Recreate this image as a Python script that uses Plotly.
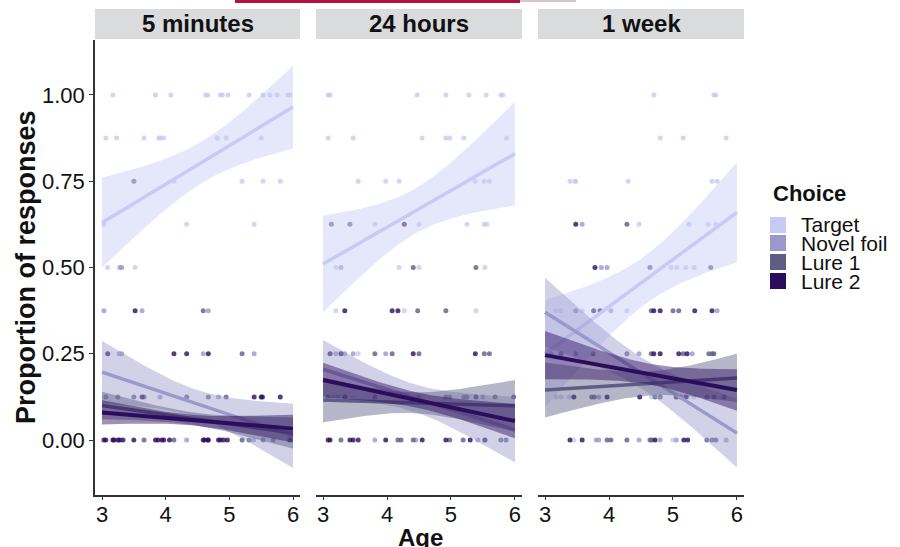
import numpy as np
import plotly.graph_objects as go

PANELS = ["5 minutes", "24 hours", "1 week"]
CHOICES = ["Target", "Novel foil", "Lure 1", "Lure 2"]
COLORS = ["#c6caf6", "#9b98cd", "#5d5d85", "#2b0c5d"]
X_TICKS = [3, 4, 5, 6]
Y_TICKS = [0.0, 0.25, 0.5, 0.75, 1.0]
Y_TICK_TEXT = ["0.00", "0.25", "0.50", "0.75", "1.00"]

# ---- observed points: proportion -> list of ages ----
P1_TARGET = {1.0: [3.17, 3.84, 4.08, 4.63, 4.66, 4.86, 4.89, 4.98, 5.31, 5.53, 5.64, 5.75, 5.92, 5.95],
             0.875: [3.06, 3.23, 3.66, 3.89, 3.92, 3.97, 4.81, 4.95, 5.5],
             0.75: [4.13, 5.2, 5.53, 5.8],
             0.625: [3.03, 4.33, 5.39],
             0.5: [3.09, 3.52]}
P1_NOVEL = {0.5: [3.28, 3.31], 0.375: [3.03, 3.63, 4.67], 0.25: [3.27, 3.31, 4.59, 5.39],
            0.125: [3.91, 4.83], 0.0: [4.33, 5.38]}
P1_LURE1 = {0.75: [3.5], 0.375: [4.59], 0.25: [5.2],
            0.125: [3.06, 3.25, 3.5, 3.66, 4.33, 4.67, 4.95],
            0.0: [3.66, 4.13, 5.2, 5.31, 5.53, 5.69]}
P1_LURE2 = {0.375: [3.52], 0.25: [3.09, 4.13, 4.33, 4.67],
            0.125: [3.63, 5.39, 5.5, 5.52, 5.8],
            0.0: [3.03, 3.06, 3.17, 3.19, 3.25, 3.28, 3.33, 3.5, 3.84, 3.88, 3.94, 3.97, 4.06,
                  4.59, 4.61, 4.66, 4.67, 4.83, 4.86, 4.91, 4.97, 5.95]}

P2_TARGET = {1.0: [3.08, 3.11, 4.47, 4.92, 5.28, 5.55, 5.78, 5.81],
             0.875: [3.08, 3.47, 4.55, 4.92, 4.98, 5.2, 5.87],
             0.75: [3.55, 3.98, 4.19, 5.38, 5.52, 5.6],
             0.625: [3.81, 4.5, 5.25, 5.52, 5.56],
             0.5: [3.2, 4.19, 4.5, 5.53],
             0.375: [3.2, 4.27, 5.39],
             0.25: [3.55], 0.125: [3.47]}
P2_NOVEL = {0.5: [3.28], 0.25: [3.2, 3.34, 3.47, 3.98], 0.125: [3.16, 3.23, 4.5, 5.5],
            0.0: [3.81, 4.45, 5.42]}
P2_LURE1 = {0.625: [3.13, 3.42], 0.5: [4.41, 5.39], 0.375: [4.48, 4.92],
            0.25: [3.81, 4.08, 4.5, 5.52, 5.6],
            0.125: [3.08, 3.81, 4.92, 4.98, 5.2, 5.25, 5.69, 5.98],
            0.0: [3.28, 4.17, 4.22, 4.41, 4.98, 5.19, 5.78, 5.86]}
P2_LURE2 = {0.625: [4.27], 0.375: [3.34, 4.08, 4.17], 0.25: [3.11, 3.28, 4.41, 5.38],
            0.125: [3.34, 5.39],
            0.0: [3.08, 3.11, 3.42, 3.47, 3.55, 3.98, 4.55, 4.92, 5.3, 5.53]}

P3_TARGET = {1.0: [4.7, 5.64, 5.67], 0.875: [4.8, 5.16, 5.83],
             0.75: [3.39, 3.47, 3.48, 4.3, 5.61, 5.69],
             0.625: [4.47, 5.25, 5.55, 5.67], 0.5: [4.97, 5.06, 5.2, 5.33],
             0.375: [3.17, 3.25, 3.58, 4.28], 0.125: [3.17, 3.25, 3.38, 4.66, 5.33],
             0.0: [3.45, 5.0]}
P3_NOVEL = {0.625: [3.58], 0.5: [3.88, 3.97], 0.375: [4.03, 5.69], 0.25: [3.09, 4.47, 5.3],
            0.125: [3.84, 5.22], 0.0: [3.8, 3.84, 4.47, 4.8, 5.05, 5.83]}
P3_LURE1 = {0.625: [4.28], 0.5: [4.64, 5.59], 0.375: [3.48, 4.66, 5.0, 5.09],
            0.25: [3.25, 3.48, 3.75, 4.28, 4.66, 5.16, 5.56, 5.61, 5.64],
            0.125: [3.73, 3.77, 4.72, 4.8, 5.53, 5.64, 5.8],
            0.0: [3.97, 4.03, 4.28, 4.64, 4.67, 5.53, 5.61, 5.67]}
P3_LURE2 = {0.625: [3.48], 0.5: [3.78], 0.375: [3.76, 3.86, 4.7, 4.8, 5.34, 5.61],
            0.25: [4.7, 4.8, 5.09, 5.22],
            0.125: [3.45, 3.97, 4.48, 5.05, 5.12, 5.2],
            0.0: [3.39, 3.58, 4.72, 5.17, 5.23]}

POINTS = [[P1_TARGET, P1_NOVEL, P1_LURE1, P1_LURE2],
          [P2_TARGET, P2_NOVEL, P2_LURE1, P2_LURE2],
          [P3_TARGET, P3_NOVEL, P3_LURE1, P3_LURE2]]

# ---- fitted lines (value at age 3 and age 6) and CI half-widths ----
FIT_AT_3 = [[0.63, 0.197, 0.10, 0.08], [0.51, 0.205, 0.116, 0.174], [0.25, 0.37, 0.145, 0.246]]
FIT_AT_6 = [[0.965, 0.012, 0.02, 0.033], [0.83, 0.03, 0.099, 0.055], [0.66, 0.02, 0.18, 0.145]]
CI_AT_3 = [[0.13, 0.09, 0.04, 0.035], [0.14, 0.085, 0.065, 0.05], [0.155, 0.10, 0.08, 0.07]]
CI_MIN = [[0.06, 0.04, 0.018, 0.015], [0.065, 0.04, 0.03, 0.022], [0.07, 0.045, 0.035, 0.03]]
CI_AT_6 = [[0.12, 0.093, 0.045, 0.04], [0.15, 0.095, 0.075, 0.05], [0.145, 0.10, 0.07, 0.06]]


def rgba(hexc, a):
    h = hexc.lstrip("#")
    return "rgba(%d,%d,%d,%.3f)" % (int(h[0:2], 16), int(h[2:4], 16), int(h[4:6], 16), a)


def band(f3, f6, h3, hm, h6):
    xs = np.linspace(3, 6, 80)
    fit = f3 + (f6 - f3) * (xs - 3) / 3
    A = hm ** 2
    r = np.sqrt((h6 ** 2 - A) / (h3 ** 2 - A))
    c = (6 + 3 * r) / (1 + r)
    B = (h3 ** 2 - A) / (c - 3) ** 2
    h = np.sqrt(A + B * (xs - c) ** 2)
    return xs, fit, fit + h, fit - h


fig = go.Figure()
FONT = "Liberation Sans"

for p in range(3):
    xa = "x" if p == 0 else "x%d" % (p + 1)
    ya = "y" if p == 0 else "y%d" % (p + 1)
    for k in range(4):
        xs, ys = [], []
        for prop, ages in POINTS[p][k].items():
            xs += ages
            ys += [prop] * len(ages)
        fig.add_trace(go.Scatter(x=xs, y=ys, mode="markers", xaxis=xa, yaxis=ya,
                                 marker=dict(size=5, color=rgba(COLORS[k], 0.8)),
                                 showlegend=False, hoverinfo="skip"))
    for k in range(4):
        xs, fit, up, lo = band(FIT_AT_3[p][k], FIT_AT_6[p][k], CI_AT_3[p][k], CI_MIN[p][k], CI_AT_6[p][k])
        fig.add_trace(go.Scatter(x=np.concatenate([xs, xs[::-1]]), y=np.concatenate([up, lo[::-1]]),
                                 fill="toself", fillcolor=rgba(COLORS[k], 0.45), line=dict(width=0),
                                 mode="lines", xaxis=xa, yaxis=ya, showlegend=False, hoverinfo="skip"))
        fig.add_trace(go.Scatter(x=xs, y=fit, mode="lines", xaxis=xa, yaxis=ya,
                                 line=dict(color=COLORS[k], width=4 if k == 3 else 3.5),
                                 showlegend=False, hoverinfo="skip"))

X_DOMAINS = [[95 / 900, 300 / 900], [316 / 900, 522 / 900], [538 / 900, 744 / 900]]
Y_DOMAIN = [(547 - 495) / 547, (547 - 40) / 547]
YR = [-0.1594, 1.1594]
XR = [2.89, 6.11]

layout = dict(width=900, height=547, margin=dict(l=0, r=0, t=0, b=0),
              plot_bgcolor="white", paper_bgcolor="white",
              font=dict(family=FONT, color="#111111"), showlegend=False)
for p in range(3):
    sx = "xaxis" if p == 0 else "xaxis%d" % (p + 1)
    sy = "yaxis" if p == 0 else "yaxis%d" % (p + 1)
    layout[sx] = dict(domain=X_DOMAINS[p], range=XR, tickvals=X_TICKS, ticks="outside", ticklen=3,
                      tickcolor="#333", showline=True, linecolor="#333", linewidth=1.5,
                      showgrid=False, zeroline=False, tickfont=dict(size=22, color="#111111"),
                      ticklabelstandoff=-4,
                      anchor="y" if p == 0 else "y%d" % (p + 1))
    layout[sy] = dict(domain=Y_DOMAIN, range=YR, showgrid=False, zeroline=False,
                      anchor="x" if p == 0 else "x%d" % (p + 1))
    if p == 0:
        layout[sy].update(tickvals=Y_TICKS, ticktext=Y_TICK_TEXT, ticks="outside", ticklen=4,
                          tickcolor="#333", showline=True, linecolor="#333", linewidth=1.5,
                          tickfont=dict(size=22, color="#111111"))
    else:
        layout[sy].update(showticklabels=False, ticks="", showline=False)
fig.update_layout(**layout)

shapes, annos = [], []
for p in range(3):
    shapes.append(dict(type="rect", xref="paper", yref="paper", x0=X_DOMAINS[p][0], x1=X_DOMAINS[p][1],
                       y0=(547 - 39) / 547, y1=(547 - 9) / 547, fillcolor="#d9dbdc", line=dict(width=0)))
    annos.append(dict(text="<b>%s</b>" % PANELS[p], xref="paper", yref="paper",
                      x=sum(X_DOMAINS[p]) / 2, y=(547 - 24) / 547, showarrow=False,
                      font=dict(size=24, color="#111111"), xanchor="center", yanchor="middle"))

# top artefact line
shapes.append(dict(type="rect", xref="paper", yref="paper", x0=235 / 900, x1=520 / 900,
                   y0=1 - 3 / 547, y1=1, fillcolor="#b0143e", line=dict(width=0)))
shapes.append(dict(type="rect", xref="paper", yref="paper", x0=520 / 900, x1=576 / 900,
                   y0=1 - 2 / 547, y1=1, fillcolor="#d6c4d8", line=dict(width=0)))

annos.append(dict(text="<b>Age</b>", xref="paper", yref="paper", x=420 / 900, y=(547 - 537) / 547,
                  showarrow=False, font=dict(size=24), xanchor="center", yanchor="middle"))
annos.append(dict(text="<b>Proportion of responses</b>", xref="paper", yref="paper", x=26 / 900,
                  y=(547 - 267) / 547, showarrow=False, font=dict(size=27), textangle=-90,
                  xanchor="center", yanchor="middle"))

# legend (manual)
annos.append(dict(text="<b>Choice</b>", xref="paper", yref="paper", x=771 / 900, y=(547 - 193) / 547,
                  showarrow=False, font=dict(size=22), xanchor="left", yanchor="middle"))
LEG_Y = [225, 243, 262, 281]
for k in range(4):
    yc = LEG_Y[k]
    shapes.append(dict(type="rect", xref="paper", yref="paper", x0=770 / 900, x1=786 / 900,
                       y0=(547 - yc - 8) / 547, y1=(547 - yc + 8) / 547, fillcolor=COLORS[k],
                       line=dict(width=0)))
    annos.append(dict(text=CHOICES[k], xref="paper", yref="paper", x=799 / 900, y=(547 - yc) / 547,
                      showarrow=False, font=dict(size=21), xanchor="left", yanchor="middle"))

fig.update_layout(shapes=shapes, annotations=annos)
fig.write_html("out.html")
